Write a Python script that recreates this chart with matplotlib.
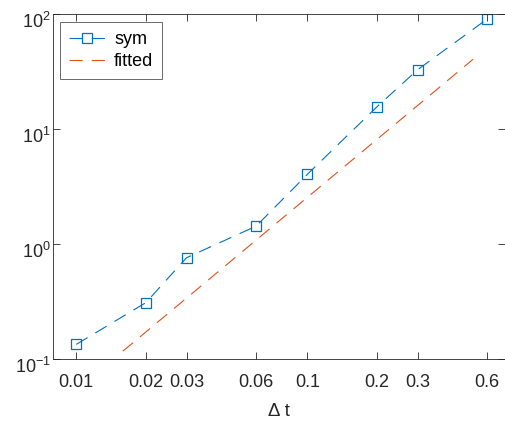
import matplotlib
matplotlib.use('Agg')
import matplotlib.pyplot as plt
from matplotlib.transforms import ScaledTranslation

# simulated error vs time step
dt = [0.01, 0.02, 0.03, 0.06, 0.1, 0.2, 0.3, 0.6]
err_sym = [0.134, 0.309, 0.76, 1.43, 4.04, 15.6, 32.8, 90.5]

# fitted power law (end points of the fitted line)
dt_fit = [0.0159, 0.521]
err_fit = [0.117, 40.4]

xtick_labels = ['0.01', '0.02', '0.03', '0.06', '0.1', '0.2', '0.3', '0.6']

plt.rcParams['font.family'] = ['Liberation Sans', 'DejaVu Sans']
plt.rcParams['lines.scale_dashes'] = False

blue = '#0072BD'
orange = '#D95319'
axcol = '#262626'
dash = (9.5, 6.5)

fig = plt.figure(figsize=(5.06, 4.21), dpi=100)
ax = fig.add_axes([53 / 506, 62 / 421, 452 / 506, 345 / 421])

ax.loglog(dt, err_sym, color=blue, linestyle='--', dashes=dash, linewidth=0.8,
          marker='s', markersize=7, markerfacecolor='none', markeredgewidth=0.9,
          label='sym')
ax.loglog(dt_fit, err_fit, color=orange, linestyle='--', dashes=dash,
          linewidth=0.8, label='fitted')

ax.set_xlim(0.00793, 0.716)
ax.set_ylim(0.1, 100)
ax.set_xticks(dt)
ax.set_xticklabels(xtick_labels)
ax.set_yticks([0.1, 1, 10, 100])
ax.minorticks_off()
ax.tick_params(which='both', direction='in', top=True, right=True,
               labelsize=13, colors=axcol, length=5, width=0.6)
ax.tick_params(axis='x', pad=10.5)
ax.tick_params(axis='y', pad=1.5)
# MATLAB centres the whole power label, so the base sits a bit low
shift = ScaledTranslation(0, -6 / 100, fig.dpi_scale_trans)
for lab in ax.get_yticklabels():
    lab.set_transform(lab.get_transform() + shift)
for s in ax.spines.values():
    s.set_color(axcol)
    s.set_linewidth(0.6)

ax.set_xlabel('Δ t', fontsize=13.5, color=axcol, labelpad=9)

leg = ax.legend(loc='upper left', bbox_to_anchor=(7 / 452, 1 - 8 / 345),
                fontsize=13, handlelength=2.0, frameon=True, fancybox=False,
                borderpad=0.5, labelspacing=0.3, handletextpad=0.5,
                borderaxespad=0)
leg.get_frame().set_edgecolor(axcol)
leg.get_frame().set_linewidth(0.6)

fig.savefig('out.png', dpi=100)
